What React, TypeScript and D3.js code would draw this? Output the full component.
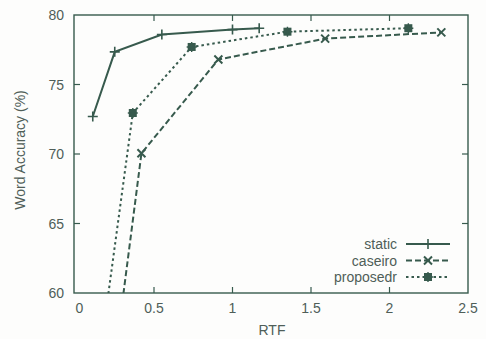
import React from "react";
import * as d3 from "d3";

const staticX = [0.11, 0.25, 0.55, 1.0, 1.17];
const staticY = [72.7, 77.35, 78.6, 78.95, 79.05];
const caseiroX = [0.283, 0.42, 0.91, 1.59, 2.33];
const caseiroY = [58, 70.05, 76.8, 78.3, 78.75];
const proposedX = [0.186, 0.365, 0.74, 1.35, 2.12];
const proposedY = [58, 72.95, 77.7, 78.8, 79.05];
const xTicks = [0, 0.5, 1, 1.5, 2, 2.5];
const yTicks = [60, 65, 70, 75, 80];
const seriesNames = ["static", "caseiro", "proposedr"];

const W = 486, H = 339;
const M = { l: 74, r: 18, t: 15, b: 46 };
const LINE = "#375a4d";
const TEXT = "#4f5e58";

export default function App() {
  const x = d3.scaleLinear().domain([0, 2.5]).range([M.l + 1.5, W - M.r]);
  const y = d3.scaleLinear().domain([60, 80]).range([H - M.b, M.t]);
  const line = d3.line<[number, number]>().x(d => x(d[0])).y(d => y(d[1]));
  const zip = (a: number[], b: number[]) => a.map((v, i) => [v, b[i]] as [number, number]);
  const series = [
    { name: seriesNames[0], pts: zip(staticX, staticY), dash: "none", marker: "plus" },
    { name: seriesNames[1], pts: zip(caseiroX, caseiroY), dash: "6,3", marker: "cross" },
    { name: seriesNames[2], pts: zip(proposedX, proposedY), dash: "2.5,3", marker: "square" },
  ];
  const marker = (kind: string, cx: number, cy: number, key: any) => {
    const s = 5;
    if (kind === "plus")
      return <path key={key} d={`M${cx - s},${cy}H${cx + s}M${cx},${cy - s}V${cy + s}`} stroke={LINE} strokeWidth={1.6} />;
    if (kind === "cross")
      return <path key={key} d={`M${cx - 4},${cy - 4}L${cx + 4},${cy + 4}M${cx - 4},${cy + 4}L${cx + 4},${cy - 4}`} stroke={LINE} strokeWidth={2} />;
    return (
      <g key={key}>
        <rect x={cx - 4} y={cy - 4} width={8} height={8} fill={LINE} />
        <path d={`M${cx - 5},${cy}H${cx + 5}M${cx},${cy - 5}V${cy + 5}`} stroke={LINE} strokeWidth={1.4} />
      </g>
    );
  };
  const x0 = M.l, x1 = W - M.r, y0 = M.t, y1 = H - M.b;
  return (
    <svg width={W} height={H} style={{ position: "absolute", left: 0, top: 0, background: "#fff" }} fontFamily="Liberation Sans, Arial, sans-serif">
      <defs>
        <clipPath id="plot">
          <rect x={x0} y={y0} width={x1 - x0} height={y1 - y0} />
        </clipPath>
      </defs>
      <rect x={0} y={0} width={W} height={H} fill="#fdfdfc" />
      {xTicks.map((t, i) => (
        <g key={"xt" + i}>
          {i > 0 && i < xTicks.length - 1 && (
            <>
              <line x1={x(t)} x2={x(t)} y1={y1} y2={y1 - 6} stroke={LINE} strokeWidth={1.2} />
              <line x1={x(t)} x2={x(t)} y1={y0} y2={y0 + 6} stroke={LINE} strokeWidth={1.2} />
            </>
          )}
          <text x={x(t) + (i === 0 ? 4 : 0)} y={y1 + 20} textAnchor="middle" fontSize={14} fill={TEXT}>{t}</text>
        </g>
      ))}
      {yTicks.map((t, i) => (
        <g key={"yt" + i}>
          {i > 0 && i < yTicks.length - 1 && (
            <>
              <line x1={x0} x2={x0 + 6} y1={y(t)} y2={y(t)} stroke={LINE} strokeWidth={1.2} />
              <line x1={x1} x2={x1 - 6} y1={y(t)} y2={y(t)} stroke={LINE} strokeWidth={1.2} />
            </>
          )}
          <text x={x0 - 10} y={y(t) + 5} textAnchor="end" fontSize={14} fill={TEXT}>{t}</text>
        </g>
      ))}
      <rect x={x0} y={y0} width={x1 - x0} height={y1 - y0} fill="none" stroke={LINE} strokeWidth={1.4} />
      <g clipPath="url(#plot)">
        {series.map((s, i) => (
          <path key={"l" + i} d={line(s.pts) || ""} fill="none" stroke={LINE} strokeWidth={2} strokeDasharray={s.dash} />
        ))}
        {series.map((s, i) =>
          s.pts.filter(p => p[1] >= 60).map((p, j) => marker(s.marker, x(p[0]), y(p[1]), `m${i}-${j}`))
        )}
      </g>
      {series.map((s, i) => {
        const ly = 244 + i * 16.5;
        return (
          <g key={"lg" + i}>
            <text x={397} y={ly + 5} textAnchor="end" fontSize={14} fill={TEXT}>{s.name}</text>
            <line x1={406} x2={450} y1={ly} y2={ly} stroke={LINE} strokeWidth={2} strokeDasharray={s.dash} />
            {marker(s.marker, 428, ly, "lm" + i)}
          </g>
        );
      })}
      <text x={272} y={335} textAnchor="middle" fontSize={14} fill={TEXT}>RTF</text>
      <text transform={`translate(25,150) rotate(-90)`} textAnchor="middle" fontSize={14} fill={TEXT}>Word Accuracy (%)</text>
    </svg>
  );
}
